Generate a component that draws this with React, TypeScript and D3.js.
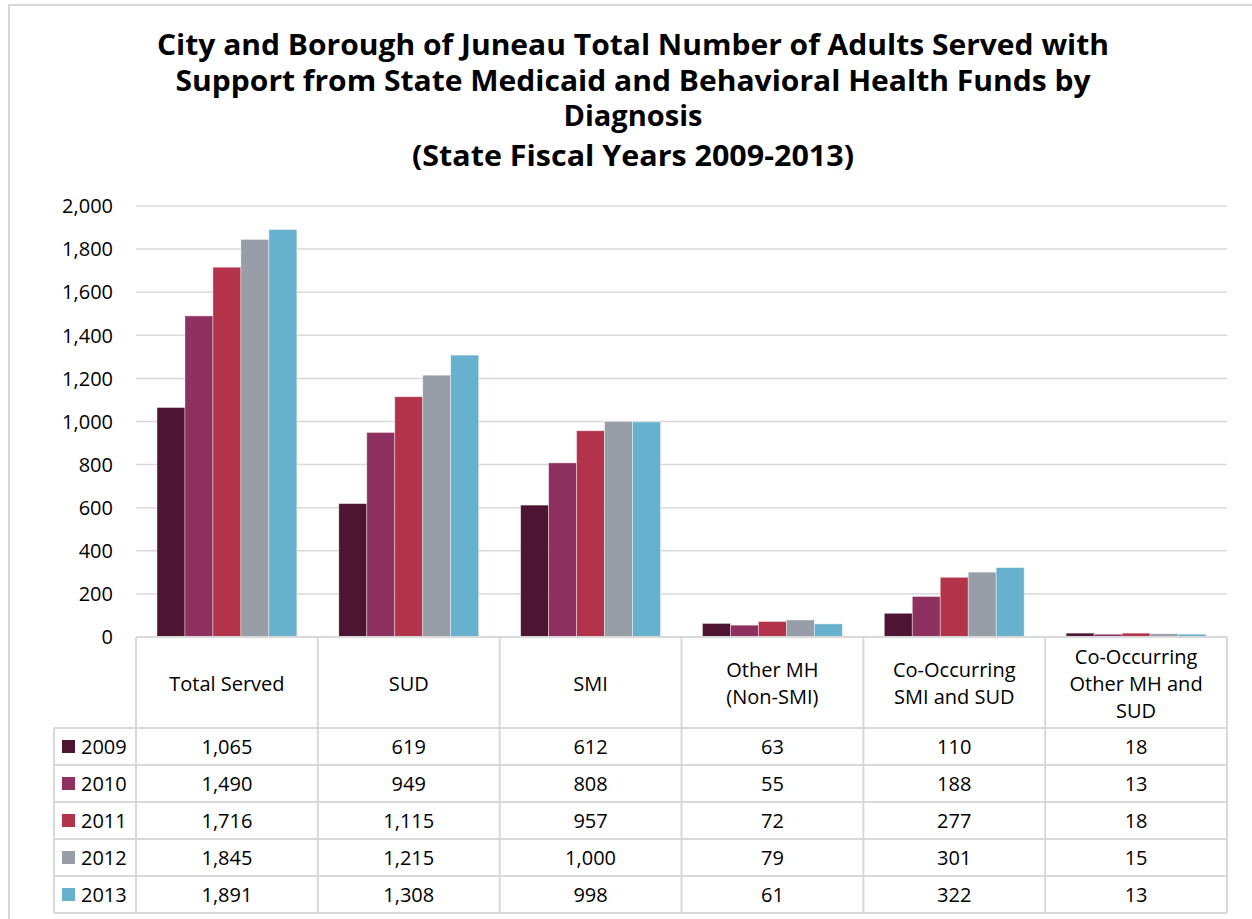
import React from 'react';
import * as d3 from 'd3';

// Categories (table header lines) and fiscal years
const CATEGORIES = [
  ['Total Served'],
  ['SUD'],
  ['SMI'],
  ['Other MH', '(Non-SMI)'],
  ['Co-Occurring', 'SMI and SUD'],
  ['Co-Occurring', 'Other MH and', 'SUD'],
];
const YEARS = ['2009', '2010', '2011', '2012', '2013'];

// Values per year, same order as CATEGORIES
const V2009 = [1065, 619, 612, 63, 110, 18];
const V2010 = [1490, 949, 808, 55, 188, 13];
const V2011 = [1716, 1115, 957, 72, 277, 18];
const V2012 = [1845, 1215, 1000, 79, 301, 15];
const V2013 = [1891, 1308, 998, 61, 322, 13];
const SERIES = [V2009, V2010, V2011, V2012, V2013];

const Y_TICKS = [0, 200, 400, 600, 800, 1000, 1200, 1400, 1600, 1800, 2000];

const COLORS = ['#4e1532', '#8e3060', '#b2334a', '#979ea8', '#67b1cf'];

const TITLE = [
  'City and Borough of Juneau Total Number of Adults Served with',
  'Support from State Medicaid and Behavioral Health Funds by',
  'Diagnosis',
  '(State Fiscal Years 2009-2013)',
];
// rendered width of each title line (Gill Sans in the original is wide)
const TITLE_WIDTHS = [952, 915, 139, 442];

const W = 1252;
const H = 919;
const FONT = '"Open Sans", Lato, sans-serif';
const GRID = '#d9d9d9';

export default function App() {
  const plotLeft = 136;
  const plotRight = 1227;
  const legendLeft = 54;

  const x0 = d3
    .scaleBand<number>()
    .domain(d3.range(CATEGORIES.length))
    .range([plotLeft, plotRight])
    .paddingInner(0)
    .paddingOuter(0);
  const x1 = d3
    .scaleBand<number>()
    .domain(d3.range(YEARS.length))
    .range([0, x0.bandwidth()])
    .paddingOuter(0.75)
    .paddingInner(0);
  const y = d3.scaleLinear().domain([0, 2000]).range([637, 206]);
  const fmt = d3.format(',');

  const headerTop = y(0);
  const headerBottom = 728;
  const rowH = 37;
  const tableBottom = headerBottom + rowH * YEARS.length;
  const headerMid = (headerTop + headerBottom) / 2 + 1;
  const lineH = 27;
  const fs = 20;

  return (
    <svg
      width={W}
      height={H}
      style={{ position: 'absolute', left: 0, top: 0, background: '#fff' }}
      fontFamily={FONT}
    >
      {/* chart frame */}
      <rect x={9} y={5} width={W + 20} height={H + 20} fill="#fff" stroke={GRID} strokeWidth={2} />

      {/* title */}
      {TITLE.map((t, i) => (
        <text
          key={i}
          x={633}
          y={55 + i * 35.5 + (i === 3 ? 4 : 0)}
          textAnchor="middle"
          fontSize={28}
          fontWeight={700}
          fill="#000"
          textLength={TITLE_WIDTHS[i]}
          lengthAdjust="spacingAndGlyphs"
        >
          {t}
        </text>
      ))}

      {/* gridlines + y labels */}
      {Y_TICKS.map((t) => (
        <g key={t}>
          {t > 0 && (
            <line x1={plotLeft} x2={plotRight} y1={y(t)} y2={y(t)} stroke={GRID} strokeWidth={1.5} />
          )}
          <text x={113} y={y(t)} dy="0.36em" textAnchor="end" fontSize={fs} fill="#000">
            {fmt(t)}
          </text>
        </g>
      ))}

      {/* bars */}
      {CATEGORIES.map((_, ci) => (
        <g key={ci} transform={`translate(${x0(ci)},0)`}>
          {SERIES.map((vals, si) => (
            <rect
              key={si}
              x={x1(si)}
              y={y(vals[ci])}
              width={x1.bandwidth()}
              height={y(0) - y(vals[ci])}
              fill={COLORS[si]}
              stroke="#ffffff"
              strokeOpacity={0.5}
              strokeWidth={0.8}
            />
          ))}
        </g>
      ))}

      {/* data table: horizontal lines */}
      <line x1={plotLeft} x2={plotRight} y1={headerTop} y2={headerTop} stroke={GRID} strokeWidth={2} />
      {d3.range(YEARS.length + 1).map((r) => (
        <line
          key={r}
          x1={legendLeft}
          x2={plotRight}
          y1={headerBottom + r * rowH}
          y2={headerBottom + r * rowH}
          stroke={GRID}
          strokeWidth={2}
        />
      ))}
      {/* vertical lines */}
      <line x1={legendLeft} x2={legendLeft} y1={headerBottom} y2={tableBottom} stroke={GRID} strokeWidth={2} />
      {d3.range(CATEGORIES.length + 1).map((c) => {
        const xx = c < CATEGORIES.length ? (x0(c) as number) : plotRight;
        return (
          <line key={c} x1={xx} x2={xx} y1={headerTop} y2={tableBottom} stroke={GRID} strokeWidth={2} />
        );
      })}

      {/* header labels */}
      {CATEGORIES.map((lines, ci) => {
        const cx = (x0(ci) as number) + x0.bandwidth() / 2;
        const start = headerMid - ((lines.length - 1) * lineH) / 2;
        return (
          <g key={ci}>
            {lines.map((l, li) => (
              <text key={li} x={cx} y={start + li * lineH} dy="0.36em" textAnchor="middle" fontSize={fs} fill="#000">
                {l}
              </text>
            ))}
          </g>
        );
      })}

      {/* rows */}
      {YEARS.map((yr, si) => {
        const cy = headerBottom + si * rowH + rowH / 2;
        return (
          <g key={yr}>
            <rect x={62} y={cy - 6.5} width={13} height={13} fill={COLORS[si]} />
            <text x={81} y={cy} dy="0.36em" fontSize={fs} fill="#000">
              {yr}
            </text>
            {SERIES[si].map((v, ci) => (
              <text
                key={ci}
                x={(x0(ci) as number) + x0.bandwidth() / 2}
                y={cy}
                dy="0.36em"
                textAnchor="middle"
                fontSize={fs}
                fill="#000"
              >
                {fmt(v)}
              </text>
            ))}
          </g>
        );
      })}
    </svg>
  );
}
